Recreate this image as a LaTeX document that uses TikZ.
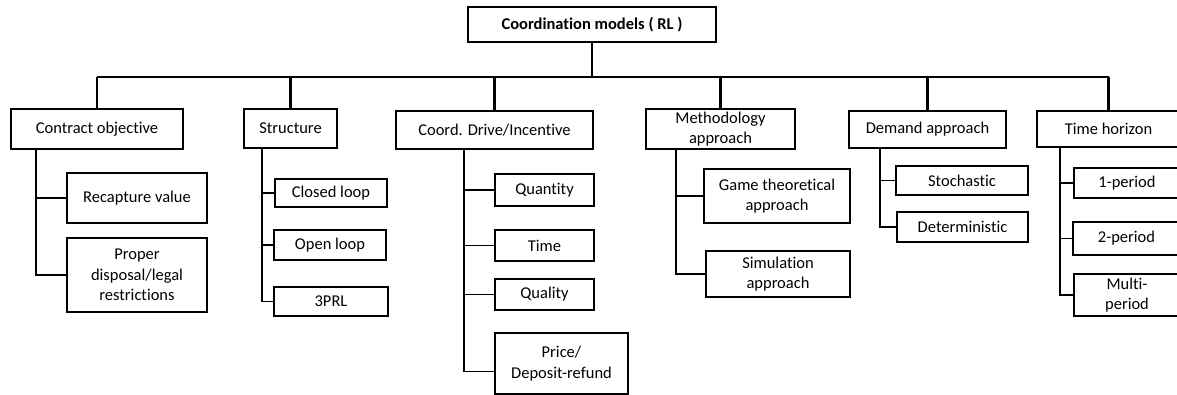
\documentclass[tikz,border=0pt]{standalone}
\usepackage{fontspec}
\setmainfont[Ligatures=NoCommon]{Carlito}
\begin{document}
\begin{tikzpicture}[x=1pt,y=-1pt,
  every node/.style={inner sep=0pt,outer sep=0pt,align=center,anchor=north west,
    font=\fontsize{16.5}{20.5}\selectfont},
  topbox/.style={draw,line width=2.4pt},
  catbox/.style={draw,line width=2.4pt},
  leafbox/.style={draw,line width=1.3pt},
  bus/.style={line width=2.4pt},
  link/.style={line width=1.3pt}]
\useasboundingbox (0,0) rectangle (1177,395);
\clip (0,0) rectangle (1177,395);

% root
\node[topbox,minimum width=248,minimum height=35,font=\fontsize{16.5}{20.5}\selectfont\bfseries] (root) at (468,7) {Coordination models ( RL )};

% categories
\node[catbox,minimum width=172,minimum height=40] (co) at (11,109) {Contract objective};
\node[catbox,minimum width=93,minimum height=39] (st) at (244,109) {Structure};
\node[catbox,minimum width=197,minimum height=38] (cd) at (396,111) {Coord. Drive/Incentive};
\node[catbox,minimum width=149,minimum height=40] (me) at (646,109) {Methodology\\approach};
\node[catbox,minimum width=157,minimum height=37] (de) at (849,111) {Demand approach};
\node[catbox,minimum width=143,minimum height=36] (th) at (1037,111) {Time horizon};

% leaves
\node[leafbox,minimum width=140,minimum height=50] (rv) at (67,173) {Recapture value};
\node[leafbox,minimum width=140,minimum height=74] (pd) at (67,238) {Proper\\disposal/legal\\restrictions};

\node[leafbox,minimum width=112,minimum height=28] (cl) at (275,179) {Closed loop};
\node[leafbox,minimum width=112,minimum height=30] (ol) at (274,230) {Open loop};
\node[leafbox,minimum width=114,minimum height=29] (tp) at (274,287) {3PRL};

\node[leafbox,minimum width=99,minimum height=32] (qn) at (495,174) {Quantity};
\node[leafbox,minimum width=99,minimum height=31] (ti) at (495,230) {Time};
\node[leafbox,minimum width=99,minimum height=31] (ql) at (495,279) {Quality};
\node[leafbox,minimum width=133,minimum height=61] (pr) at (495,333) {Price/\\Deposit-refund};

\node[leafbox,minimum width=146,minimum height=54] (gt) at (704,169) {Game theoretical\\approach};
\node[leafbox,minimum width=144,minimum height=46] (si) at (706,251) {Simulation\\approach};

\node[leafbox,minimum width=132,minimum height=29] (sc) at (896,166) {Stochastic};
\node[leafbox,minimum width=131,minimum height=30] (dt) at (897,212) {Deterministic};

\node[leafbox,minimum width=106,minimum height=30] (p1) at (1074,168) {1-period};
\node[leafbox,minimum width=107,minimum height=33] (p2) at (1073,222) {2-period};
\node[leafbox,minimum width=106,minimum height=42] (pm) at (1074,274) {Multi-\\period};

% top-level bus
\coordinate (busy) at (0,77);
\draw[bus] (root.south) -- (root.south |- busy);
\draw[bus] (co.north |- busy) -- (th.north |- busy);
\foreach \c in {co,st,cd,me,de,th}
  \draw[bus] (\c.north |- busy) -- (\c.north);

% trunk tops under each category
\coordinate (co-t) at ([xshift=25pt]co.south west);
\coordinate (st-t) at ([xshift=18pt]st.south west);
\coordinate (cd-t) at ([xshift=68pt]cd.south west);
\coordinate (me-t) at ([xshift=30pt]me.south west);
\coordinate (de-t) at ([xshift=31pt]de.south west);
\coordinate (th-t) at ([xshift=23pt]th.south west);

% branches to the leaves
\draw[link] (co-t) |- (rv.west);
\draw[link] (co-t) |- (pd.west);
\draw[link] (st-t) |- (cl.west);
\draw[link] (st-t) |- (ol.west);
\draw[link] (st-t) |- (tp.west);
\draw[link] (cd-t) |- (qn.west);
\draw[link] (cd-t) |- (ti.west);
\draw[link] (cd-t) |- (ql.west);
\draw[link] (cd-t) |- ([yshift=-8pt]pr.west);
\draw[link] (me-t) |- (gt.west);
\draw[link] (me-t) |- (si.west);
\draw[link] (de-t) |- (sc.west);
\draw[link] (de-t) |- (dt.west);
\draw[link] (th-t) |- (p1.west);
\draw[link] (th-t) |- (p2.west);
\draw[link] (th-t) |- (pm.west);
\end{tikzpicture}
\end{document}
